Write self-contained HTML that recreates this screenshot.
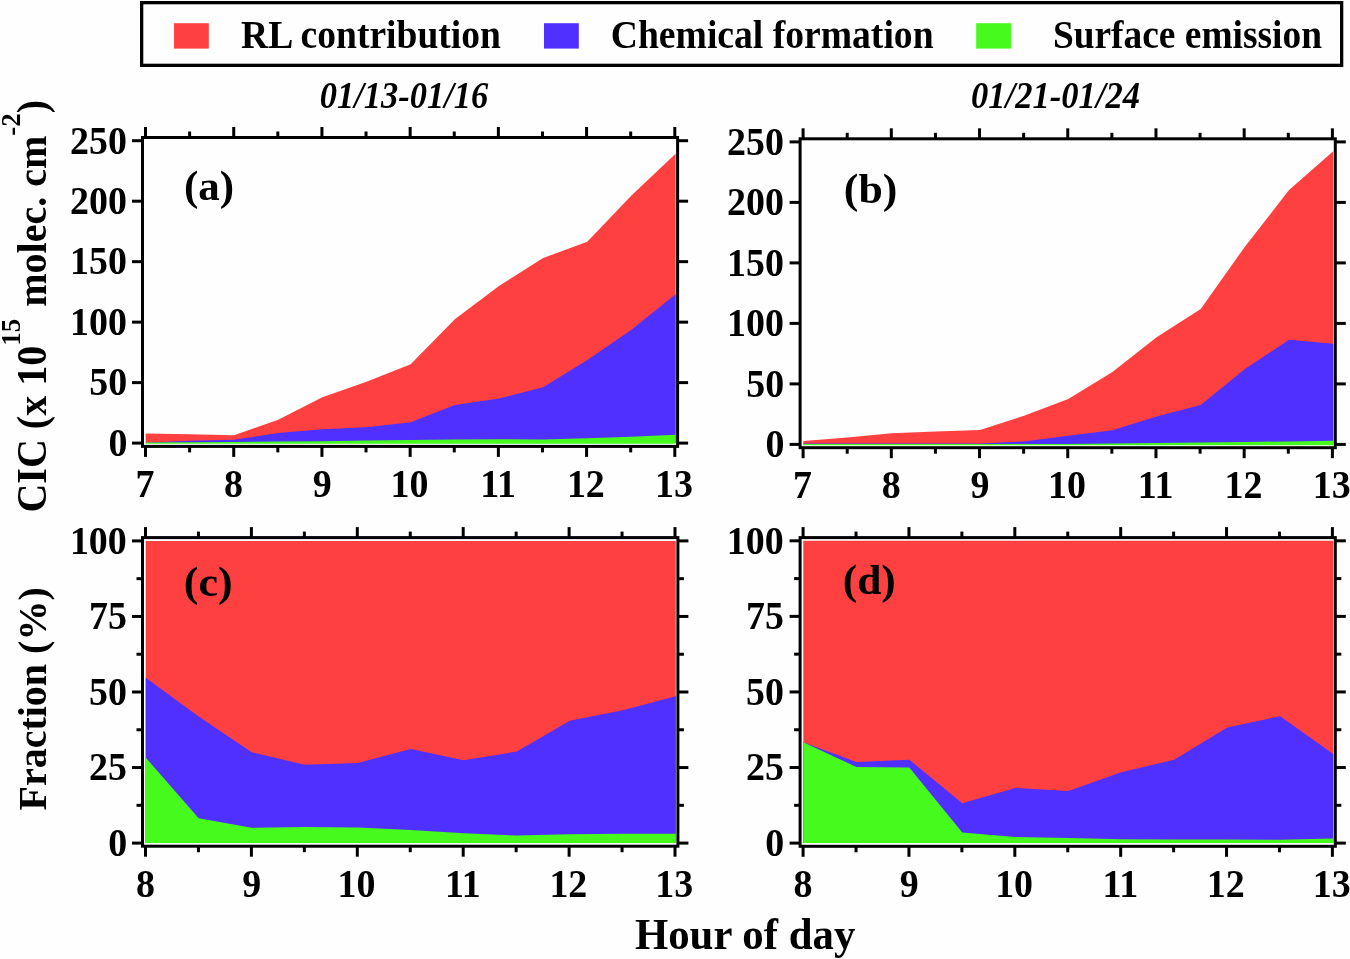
<!DOCTYPE html>
<html><head><meta charset="utf-8"><style>
html,body{margin:0;padding:0;background:#fefefe;}
svg{display:block;will-change:transform;}
text{font-family:"Liberation Serif",serif;font-weight:bold;fill:#000;}
</style></head><body>
<svg width="1350" height="959" viewBox="0 0 1350 959">
<polygon points="145.70,433.42 189.86,434.15 234.02,435.24 278.17,419.63 322.33,397.26 366.49,381.65 410.65,364.36 454.81,319.36 498.97,286.09 543.12,258.03 587.28,241.82 631.44,195.62 675.60,153.64 675.60,443.10 145.70,443.10" fill="#FF4040"/>
<polygon points="145.70,442.74 189.86,440.80 234.02,439.71 278.17,433.06 322.33,429.31 366.49,427.25 410.65,422.29 454.81,405.12 498.97,398.59 543.12,387.34 587.28,359.88 631.44,329.76 675.60,294.20 675.60,443.10 145.70,443.10" fill="#5030FF"/>
<polygon points="145.70,442.50 189.86,442.13 234.02,441.89 278.17,441.53 322.33,441.16 366.49,440.44 410.65,440.08 454.81,439.47 498.97,439.23 543.12,439.47 587.28,438.26 631.44,436.81 675.60,434.87 675.60,443.70 145.70,443.70" fill="#46FA1E"/>
<polygon points="803.30,441.01 847.46,437.38 891.62,433.15 935.78,431.57 979.93,430.00 1024.09,415.72 1068.25,399.02 1112.41,372.04 1156.57,337.19 1200.72,309.12 1244.88,246.69 1289.04,190.06 1333.20,151.34 1333.20,444.40 803.30,444.40" fill="#FF4040"/>
<polygon points="803.30,443.43 847.46,443.43 891.62,443.43 935.78,443.43 979.93,443.43 1024.09,441.38 1068.25,435.81 1112.41,430.24 1156.57,416.45 1200.72,405.07 1244.88,368.90 1289.04,339.86 1333.20,343.73 1333.20,444.40 803.30,444.40" fill="#5030FF"/>
<polygon points="803.30,443.92 847.46,443.92 891.62,443.92 935.78,443.92 979.93,443.92 1024.09,443.92 1068.25,443.92 1112.41,443.43 1156.57,442.95 1200.72,442.46 1244.88,441.98 1289.04,441.38 1333.20,440.77 1333.20,445.30 803.30,445.30" fill="#46FA1E"/>
<polygon points="145.70,540.90 198.71,540.90 251.72,540.90 304.73,540.90 357.74,540.90 410.75,540.90 463.76,540.90 516.77,540.90 569.78,540.90 622.79,540.90 675.80,540.90 675.80,843.10 145.70,843.10" fill="#FF4040"/>
<polygon points="145.70,677.80 198.71,716.48 251.72,752.14 304.73,764.83 357.74,763.02 410.75,749.12 463.76,760.30 516.77,751.53 569.78,720.71 622.79,710.13 675.80,696.23 675.80,843.10 145.70,843.10" fill="#5030FF"/>
<polygon points="145.70,757.58 198.71,818.32 251.72,827.69 304.73,827.08 357.74,827.39 410.75,830.11 463.76,833.13 516.77,835.55 569.78,834.34 622.79,833.73 675.80,833.73 675.80,843.10 145.70,843.10" fill="#46FA1E"/>
<polygon points="803.30,540.80 856.29,540.80 909.28,540.80 962.27,540.80 1015.26,540.80 1068.25,540.80 1121.24,540.80 1174.23,540.80 1227.22,540.80 1280.21,540.80 1333.20,540.80 1333.20,843.10 803.30,843.10" fill="#FF4040"/>
<polygon points="803.30,742.13 856.29,762.08 909.28,759.67 962.27,803.20 1015.26,788.08 1068.25,791.10 1121.24,772.36 1174.23,759.67 1227.22,727.62 1280.21,716.13 1333.20,753.92 1333.20,843.10 803.30,843.10" fill="#5030FF"/>
<polygon points="803.30,742.13 856.29,766.92 909.28,767.52 962.27,832.52 1015.26,837.05 1068.25,838.11 1121.24,839.17 1174.23,839.47 1227.22,839.47 1280.21,839.77 1333.20,838.57 1333.20,843.10 803.30,843.10" fill="#46FA1E"/>
<g stroke="#000" stroke-width="3" stroke-linecap="butt"><rect x="142.5" y="137.5" width="535.10" height="308.90" fill="none" stroke="#000" stroke-width="3.0" stroke-linejoin="miter"/><line x1="145.50" y1="137.50" x2="145.50" y2="127.00"/><line x1="145.50" y1="446.40" x2="145.50" y2="456.90"/><line x1="189.61" y1="137.50" x2="189.61" y2="131.50"/><line x1="189.61" y1="446.40" x2="189.61" y2="452.40"/><line x1="233.72" y1="137.50" x2="233.72" y2="127.00"/><line x1="233.72" y1="446.40" x2="233.72" y2="456.90"/><line x1="277.82" y1="137.50" x2="277.82" y2="131.50"/><line x1="277.82" y1="446.40" x2="277.82" y2="452.40"/><line x1="321.93" y1="137.50" x2="321.93" y2="127.00"/><line x1="321.93" y1="446.40" x2="321.93" y2="456.90"/><line x1="366.04" y1="137.50" x2="366.04" y2="131.50"/><line x1="366.04" y1="446.40" x2="366.04" y2="452.40"/><line x1="410.15" y1="137.50" x2="410.15" y2="127.00"/><line x1="410.15" y1="446.40" x2="410.15" y2="456.90"/><line x1="454.26" y1="137.50" x2="454.26" y2="131.50"/><line x1="454.26" y1="446.40" x2="454.26" y2="452.40"/><line x1="498.37" y1="137.50" x2="498.37" y2="127.00"/><line x1="498.37" y1="446.40" x2="498.37" y2="456.90"/><line x1="542.47" y1="137.50" x2="542.47" y2="131.50"/><line x1="542.47" y1="446.40" x2="542.47" y2="452.40"/><line x1="586.58" y1="137.50" x2="586.58" y2="127.00"/><line x1="586.58" y1="446.40" x2="586.58" y2="456.90"/><line x1="630.69" y1="137.50" x2="630.69" y2="131.50"/><line x1="630.69" y1="446.40" x2="630.69" y2="452.40"/><line x1="674.80" y1="137.50" x2="674.80" y2="127.00"/><line x1="674.80" y1="446.40" x2="674.80" y2="456.90"/><line x1="142.50" y1="443.10" x2="132.00" y2="443.10"/><line x1="677.60" y1="443.10" x2="688.10" y2="443.10"/><line x1="142.50" y1="382.62" x2="132.00" y2="382.62"/><line x1="677.60" y1="382.62" x2="688.10" y2="382.62"/><line x1="142.50" y1="322.14" x2="132.00" y2="322.14"/><line x1="677.60" y1="322.14" x2="688.10" y2="322.14"/><line x1="142.50" y1="261.66" x2="132.00" y2="261.66"/><line x1="677.60" y1="261.66" x2="688.10" y2="261.66"/><line x1="142.50" y1="201.18" x2="132.00" y2="201.18"/><line x1="677.60" y1="201.18" x2="688.10" y2="201.18"/><line x1="142.50" y1="140.70" x2="132.00" y2="140.70"/><line x1="677.60" y1="140.70" x2="688.10" y2="140.70"/></g>
<g stroke="#000" stroke-width="3" stroke-linecap="butt"><rect x="800.1" y="138.8" width="535.20" height="308.90" fill="none" stroke="#000" stroke-width="3.0" stroke-linejoin="miter"/><line x1="803.10" y1="138.80" x2="803.10" y2="128.30"/><line x1="803.10" y1="447.70" x2="803.10" y2="458.20"/><line x1="847.21" y1="138.80" x2="847.21" y2="132.80"/><line x1="847.21" y1="447.70" x2="847.21" y2="453.70"/><line x1="891.32" y1="138.80" x2="891.32" y2="128.30"/><line x1="891.32" y1="447.70" x2="891.32" y2="458.20"/><line x1="935.43" y1="138.80" x2="935.43" y2="132.80"/><line x1="935.43" y1="447.70" x2="935.43" y2="453.70"/><line x1="979.53" y1="138.80" x2="979.53" y2="128.30"/><line x1="979.53" y1="447.70" x2="979.53" y2="458.20"/><line x1="1023.64" y1="138.80" x2="1023.64" y2="132.80"/><line x1="1023.64" y1="447.70" x2="1023.64" y2="453.70"/><line x1="1067.75" y1="138.80" x2="1067.75" y2="128.30"/><line x1="1067.75" y1="447.70" x2="1067.75" y2="458.20"/><line x1="1111.86" y1="138.80" x2="1111.86" y2="132.80"/><line x1="1111.86" y1="447.70" x2="1111.86" y2="453.70"/><line x1="1155.97" y1="138.80" x2="1155.97" y2="128.30"/><line x1="1155.97" y1="447.70" x2="1155.97" y2="458.20"/><line x1="1200.08" y1="138.80" x2="1200.08" y2="132.80"/><line x1="1200.08" y1="447.70" x2="1200.08" y2="453.70"/><line x1="1244.18" y1="138.80" x2="1244.18" y2="128.30"/><line x1="1244.18" y1="447.70" x2="1244.18" y2="458.20"/><line x1="1288.29" y1="138.80" x2="1288.29" y2="132.80"/><line x1="1288.29" y1="447.70" x2="1288.29" y2="453.70"/><line x1="1332.40" y1="138.80" x2="1332.40" y2="128.30"/><line x1="1332.40" y1="447.70" x2="1332.40" y2="458.20"/><line x1="800.10" y1="444.40" x2="789.60" y2="444.40"/><line x1="1335.30" y1="444.40" x2="1345.80" y2="444.40"/><line x1="800.10" y1="383.90" x2="789.60" y2="383.90"/><line x1="1335.30" y1="383.90" x2="1345.80" y2="383.90"/><line x1="800.10" y1="323.40" x2="789.60" y2="323.40"/><line x1="1335.30" y1="323.40" x2="1345.80" y2="323.40"/><line x1="800.10" y1="262.90" x2="789.60" y2="262.90"/><line x1="1335.30" y1="262.90" x2="1345.80" y2="262.90"/><line x1="800.10" y1="202.40" x2="789.60" y2="202.40"/><line x1="1335.30" y1="202.40" x2="1345.80" y2="202.40"/><line x1="800.10" y1="141.90" x2="789.60" y2="141.90"/><line x1="1335.30" y1="141.90" x2="1345.80" y2="141.90"/></g>
<g stroke="#000" stroke-width="3" stroke-linecap="butt"><rect x="142.5" y="537.6" width="535.40" height="308.60" fill="none" stroke="#000" stroke-width="3.0" stroke-linejoin="miter"/><line x1="145.50" y1="537.60" x2="145.50" y2="527.10"/><line x1="145.50" y1="846.20" x2="145.50" y2="856.70"/><line x1="198.45" y1="537.60" x2="198.45" y2="531.60"/><line x1="198.45" y1="846.20" x2="198.45" y2="852.20"/><line x1="251.40" y1="537.60" x2="251.40" y2="527.10"/><line x1="251.40" y1="846.20" x2="251.40" y2="856.70"/><line x1="304.35" y1="537.60" x2="304.35" y2="531.60"/><line x1="304.35" y1="846.20" x2="304.35" y2="852.20"/><line x1="357.30" y1="537.60" x2="357.30" y2="527.10"/><line x1="357.30" y1="846.20" x2="357.30" y2="856.70"/><line x1="410.25" y1="537.60" x2="410.25" y2="531.60"/><line x1="410.25" y1="846.20" x2="410.25" y2="852.20"/><line x1="463.20" y1="537.60" x2="463.20" y2="527.10"/><line x1="463.20" y1="846.20" x2="463.20" y2="856.70"/><line x1="516.15" y1="537.60" x2="516.15" y2="531.60"/><line x1="516.15" y1="846.20" x2="516.15" y2="852.20"/><line x1="569.10" y1="537.60" x2="569.10" y2="527.10"/><line x1="569.10" y1="846.20" x2="569.10" y2="856.70"/><line x1="622.05" y1="537.60" x2="622.05" y2="531.60"/><line x1="622.05" y1="846.20" x2="622.05" y2="852.20"/><line x1="675.00" y1="537.60" x2="675.00" y2="527.10"/><line x1="675.00" y1="846.20" x2="675.00" y2="856.70"/><line x1="142.50" y1="843.10" x2="132.00" y2="843.10"/><line x1="677.90" y1="843.10" x2="688.40" y2="843.10"/><line x1="142.50" y1="805.33" x2="136.50" y2="805.33"/><line x1="677.90" y1="805.33" x2="683.90" y2="805.33"/><line x1="142.50" y1="767.55" x2="132.00" y2="767.55"/><line x1="677.90" y1="767.55" x2="688.40" y2="767.55"/><line x1="142.50" y1="729.77" x2="136.50" y2="729.77"/><line x1="677.90" y1="729.77" x2="683.90" y2="729.77"/><line x1="142.50" y1="692.00" x2="132.00" y2="692.00"/><line x1="677.90" y1="692.00" x2="688.40" y2="692.00"/><line x1="142.50" y1="654.23" x2="136.50" y2="654.23"/><line x1="677.90" y1="654.23" x2="683.90" y2="654.23"/><line x1="142.50" y1="616.45" x2="132.00" y2="616.45"/><line x1="677.90" y1="616.45" x2="688.40" y2="616.45"/><line x1="142.50" y1="578.67" x2="136.50" y2="578.67"/><line x1="677.90" y1="578.67" x2="683.90" y2="578.67"/><line x1="142.50" y1="540.90" x2="132.00" y2="540.90"/><line x1="677.90" y1="540.90" x2="688.40" y2="540.90"/></g>
<g stroke="#000" stroke-width="3" stroke-linecap="butt"><rect x="800.1" y="537.6" width="535.20" height="308.70" fill="none" stroke="#000" stroke-width="3.0" stroke-linejoin="miter"/><line x1="803.10" y1="537.60" x2="803.10" y2="527.10"/><line x1="803.10" y1="846.30" x2="803.10" y2="856.80"/><line x1="856.03" y1="537.60" x2="856.03" y2="531.60"/><line x1="856.03" y1="846.30" x2="856.03" y2="852.30"/><line x1="908.96" y1="537.60" x2="908.96" y2="527.10"/><line x1="908.96" y1="846.30" x2="908.96" y2="856.80"/><line x1="961.89" y1="537.60" x2="961.89" y2="531.60"/><line x1="961.89" y1="846.30" x2="961.89" y2="852.30"/><line x1="1014.82" y1="537.60" x2="1014.82" y2="527.10"/><line x1="1014.82" y1="846.30" x2="1014.82" y2="856.80"/><line x1="1067.75" y1="537.60" x2="1067.75" y2="531.60"/><line x1="1067.75" y1="846.30" x2="1067.75" y2="852.30"/><line x1="1120.68" y1="537.60" x2="1120.68" y2="527.10"/><line x1="1120.68" y1="846.30" x2="1120.68" y2="856.80"/><line x1="1173.61" y1="537.60" x2="1173.61" y2="531.60"/><line x1="1173.61" y1="846.30" x2="1173.61" y2="852.30"/><line x1="1226.54" y1="537.60" x2="1226.54" y2="527.10"/><line x1="1226.54" y1="846.30" x2="1226.54" y2="856.80"/><line x1="1279.47" y1="537.60" x2="1279.47" y2="531.60"/><line x1="1279.47" y1="846.30" x2="1279.47" y2="852.30"/><line x1="1332.40" y1="537.60" x2="1332.40" y2="527.10"/><line x1="1332.40" y1="846.30" x2="1332.40" y2="856.80"/><line x1="800.10" y1="843.10" x2="789.60" y2="843.10"/><line x1="1335.30" y1="843.10" x2="1345.80" y2="843.10"/><line x1="800.10" y1="805.31" x2="794.10" y2="805.31"/><line x1="1335.30" y1="805.31" x2="1341.30" y2="805.31"/><line x1="800.10" y1="767.52" x2="789.60" y2="767.52"/><line x1="1335.30" y1="767.52" x2="1345.80" y2="767.52"/><line x1="800.10" y1="729.74" x2="794.10" y2="729.74"/><line x1="1335.30" y1="729.74" x2="1341.30" y2="729.74"/><line x1="800.10" y1="691.95" x2="789.60" y2="691.95"/><line x1="1335.30" y1="691.95" x2="1345.80" y2="691.95"/><line x1="800.10" y1="654.16" x2="794.10" y2="654.16"/><line x1="1335.30" y1="654.16" x2="1341.30" y2="654.16"/><line x1="800.10" y1="616.38" x2="789.60" y2="616.38"/><line x1="1335.30" y1="616.38" x2="1345.80" y2="616.38"/><line x1="800.10" y1="578.59" x2="794.10" y2="578.59"/><line x1="1335.30" y1="578.59" x2="1341.30" y2="578.59"/><line x1="800.10" y1="540.80" x2="789.60" y2="540.80"/><line x1="1335.30" y1="540.80" x2="1345.80" y2="540.80"/></g>
<text x="241.08" y="47.90" font-size="41" textLength="259.90" lengthAdjust="spacingAndGlyphs">RL contribution</text>
<text x="610.77" y="47.90" font-size="41" textLength="322.81" lengthAdjust="spacingAndGlyphs">Chemical formation</text>
<text x="1052.88" y="47.90" font-size="41" textLength="269.08" lengthAdjust="spacingAndGlyphs">Surface emission</text>
<text x="319.77" y="107.80" font-size="37" font-style="italic" textLength="168.53" lengthAdjust="spacingAndGlyphs">01/13-01/16</text>
<text x="970.96" y="107.80" font-size="37" font-style="italic" textLength="169.17" lengthAdjust="spacingAndGlyphs">01/21-01/24</text>
<text x="183.95" y="200.00" font-size="42" textLength="50.18" lengthAdjust="spacingAndGlyphs">(a)</text>
<text x="843.81" y="202.60" font-size="42" textLength="53.53" lengthAdjust="spacingAndGlyphs">(b)</text>
<text x="183.80" y="596.20" font-size="42" textLength="48.90" lengthAdjust="spacingAndGlyphs">(c)</text>
<text x="842.73" y="593.70" font-size="42" textLength="53.09" lengthAdjust="spacingAndGlyphs">(d)</text>
<text x="634.93" y="948.90" font-size="44" textLength="220.42" lengthAdjust="spacingAndGlyphs">Hour of day</text>
<text x="108.42" y="455.90" font-size="39.5" textLength="18.96" lengthAdjust="spacingAndGlyphs">0</text>
<text x="89.22" y="395.42" font-size="39.5" textLength="37.92" lengthAdjust="spacingAndGlyphs">50</text>
<text x="70.02" y="334.94" font-size="39.5" textLength="56.88" lengthAdjust="spacingAndGlyphs">100</text>
<text x="70.02" y="274.46" font-size="39.5" textLength="56.88" lengthAdjust="spacingAndGlyphs">150</text>
<text x="70.02" y="213.98" font-size="39.5" textLength="56.88" lengthAdjust="spacingAndGlyphs">200</text>
<text x="70.02" y="153.50" font-size="39.5" textLength="56.88" lengthAdjust="spacingAndGlyphs">250</text>
<text x="135.42" y="496.80" font-size="39.5" textLength="18.96" lengthAdjust="spacingAndGlyphs">7</text>
<text x="224.12" y="496.80" font-size="39.5" textLength="18.96" lengthAdjust="spacingAndGlyphs">8</text>
<text x="312.81" y="496.80" font-size="39.5" textLength="18.96" lengthAdjust="spacingAndGlyphs">9</text>
<text x="390.47" y="496.80" font-size="39.5" textLength="37.92" lengthAdjust="spacingAndGlyphs">10</text>
<text x="480.13" y="496.80" font-size="39.5" textLength="35.84" lengthAdjust="spacingAndGlyphs">11</text>
<text x="566.90" y="496.80" font-size="39.5" textLength="37.92" lengthAdjust="spacingAndGlyphs">12</text>
<text x="655.12" y="496.80" font-size="39.5" textLength="37.92" lengthAdjust="spacingAndGlyphs">13</text>
<text x="765.42" y="457.20" font-size="39.5" textLength="18.96" lengthAdjust="spacingAndGlyphs">0</text>
<text x="746.22" y="396.70" font-size="39.5" textLength="37.92" lengthAdjust="spacingAndGlyphs">50</text>
<text x="727.02" y="336.20" font-size="39.5" textLength="56.88" lengthAdjust="spacingAndGlyphs">100</text>
<text x="727.02" y="275.70" font-size="39.5" textLength="56.88" lengthAdjust="spacingAndGlyphs">150</text>
<text x="727.02" y="215.20" font-size="39.5" textLength="56.88" lengthAdjust="spacingAndGlyphs">200</text>
<text x="727.02" y="154.70" font-size="39.5" textLength="56.88" lengthAdjust="spacingAndGlyphs">250</text>
<text x="793.02" y="498.10" font-size="39.5" textLength="18.96" lengthAdjust="spacingAndGlyphs">7</text>
<text x="881.72" y="498.10" font-size="39.5" textLength="18.96" lengthAdjust="spacingAndGlyphs">8</text>
<text x="970.41" y="498.10" font-size="39.5" textLength="18.96" lengthAdjust="spacingAndGlyphs">9</text>
<text x="1048.07" y="498.10" font-size="39.5" textLength="37.92" lengthAdjust="spacingAndGlyphs">10</text>
<text x="1137.73" y="498.10" font-size="39.5" textLength="35.84" lengthAdjust="spacingAndGlyphs">11</text>
<text x="1224.50" y="498.10" font-size="39.5" textLength="37.92" lengthAdjust="spacingAndGlyphs">12</text>
<text x="1312.72" y="498.10" font-size="39.5" textLength="37.92" lengthAdjust="spacingAndGlyphs">13</text>
<text x="108.32" y="855.90" font-size="39.5" textLength="18.96" lengthAdjust="spacingAndGlyphs">0</text>
<text x="89.12" y="780.35" font-size="39.5" textLength="37.92" lengthAdjust="spacingAndGlyphs">25</text>
<text x="89.12" y="704.80" font-size="39.5" textLength="37.92" lengthAdjust="spacingAndGlyphs">50</text>
<text x="89.12" y="629.25" font-size="39.5" textLength="37.92" lengthAdjust="spacingAndGlyphs">75</text>
<text x="69.92" y="553.70" font-size="39.5" textLength="56.88" lengthAdjust="spacingAndGlyphs">100</text>
<text x="135.90" y="896.80" font-size="39.5" textLength="18.96" lengthAdjust="spacingAndGlyphs">8</text>
<text x="242.28" y="896.80" font-size="39.5" textLength="18.96" lengthAdjust="spacingAndGlyphs">9</text>
<text x="337.62" y="896.80" font-size="39.5" textLength="37.92" lengthAdjust="spacingAndGlyphs">10</text>
<text x="444.96" y="896.80" font-size="39.5" textLength="35.84" lengthAdjust="spacingAndGlyphs">11</text>
<text x="549.42" y="896.80" font-size="39.5" textLength="37.92" lengthAdjust="spacingAndGlyphs">12</text>
<text x="655.32" y="896.80" font-size="39.5" textLength="37.92" lengthAdjust="spacingAndGlyphs">13</text>
<text x="765.22" y="855.90" font-size="39.5" textLength="18.96" lengthAdjust="spacingAndGlyphs">0</text>
<text x="746.02" y="780.32" font-size="39.5" textLength="37.92" lengthAdjust="spacingAndGlyphs">25</text>
<text x="746.02" y="704.75" font-size="39.5" textLength="37.92" lengthAdjust="spacingAndGlyphs">50</text>
<text x="746.02" y="629.17" font-size="39.5" textLength="37.92" lengthAdjust="spacingAndGlyphs">75</text>
<text x="726.82" y="553.60" font-size="39.5" textLength="56.88" lengthAdjust="spacingAndGlyphs">100</text>
<text x="793.50" y="896.80" font-size="39.5" textLength="18.96" lengthAdjust="spacingAndGlyphs">8</text>
<text x="899.84" y="896.80" font-size="39.5" textLength="18.96" lengthAdjust="spacingAndGlyphs">9</text>
<text x="995.14" y="896.80" font-size="39.5" textLength="37.92" lengthAdjust="spacingAndGlyphs">10</text>
<text x="1102.44" y="896.80" font-size="39.5" textLength="35.84" lengthAdjust="spacingAndGlyphs">11</text>
<text x="1206.86" y="896.80" font-size="39.5" textLength="37.92" lengthAdjust="spacingAndGlyphs">12</text>
<text x="1312.72" y="896.80" font-size="39.5" textLength="37.92" lengthAdjust="spacingAndGlyphs">13</text>
<text transform="translate(46.3,512.6) rotate(-90) scale(0.965,1)" font-size="41.5">CIC (x 10<tspan font-size="28" dy="-26.5">15</tspan><tspan dy="26.5" dx="2"> molec. cm</tspan><tspan font-size="28" dy="-26.5">-2</tspan><tspan dy="26.5">)</tspan></text>
<text transform="translate(46.4,810.5) rotate(-90)" font-size="40">Fraction (%)</text>
<rect x="141.65" y="2.65" width="1200" height="62.7" fill="none" stroke="#000" stroke-width="3.3"/>
<rect x="174" y="23.2" width="34.8" height="25.4" fill="#FF4040"/>
<rect x="544" y="23.2" width="34.8" height="25.4" fill="#5030FF"/>
<rect x="976.2" y="23.2" width="35" height="25.4" fill="#46FA1E"/>
</svg>
</body></html>
